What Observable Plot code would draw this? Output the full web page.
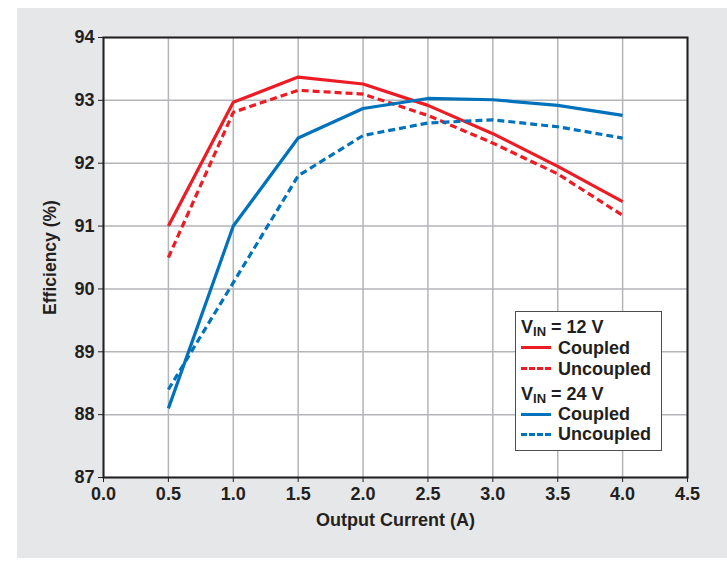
<!DOCTYPE html>
<html><head><meta charset="utf-8">
<script src="https://cdn.jsdelivr.net/npm/d3@7"></script>
<script src="https://cdn.jsdelivr.net/npm/@observablehq/plot@0.6"></script>
<style>
html,body{margin:0;padding:0;background:#fff;}
#wrap{position:relative;width:727px;height:571px;font-family:"Liberation Sans",Arial,sans-serif;}
#panel{position:absolute;left:17px;top:8px;width:710px;height:550px;background:#e6e7e8;}
#chart{position:absolute;left:0;top:0;}
#legend{position:absolute;left:515px;top:311px;width:147px;height:140px;background:#fff;border:1.5px solid #4d4d4d;box-sizing:border-box;font-weight:bold;font-size:18px;color:#231f20;}
.row{position:absolute;left:5px;height:20px;line-height:20px;white-space:nowrap;}
.sw{display:inline-block;width:30px;height:0;vertical-align:middle;margin-right:7px;border-top-width:3.5px;position:relative;top:-1px;}
sub{font-size:13px;vertical-align:-3px;line-height:0;}
</style></head>
<body>
<div id="wrap"><div id="panel"></div><div id="chart"></div><div id="legend"></div></div>
<script>
const current = [0.5, 1.0, 1.5, 2.0, 2.5, 3.0, 3.5, 4.0];
const eff12Coupled   = [91.0, 92.97, 93.37, 93.26, 92.92, 92.47, 91.95, 91.39];
const eff12Uncoupled = [90.5, 92.81, 93.16, 93.10, 92.76, 92.32, 91.83, 91.17];
const eff24Coupled   = [88.1, 91.0, 92.40, 92.87, 93.03, 93.01, 92.92, 92.76];
const eff24Uncoupled = [88.4, 90.1, 91.80, 92.44, 92.64, 92.69, 92.58, 92.40];
const xTicks = [0, 0.5, 1, 1.5, 2, 2.5, 3, 3.5, 4, 4.5];
const yTicks = [87, 88, 89, 90, 91, 92, 93, 94];
const xTitle = "Output Current (A)";
const yTitle = "Efficiency (%)";

const series = [
  {name: "12 V Coupled", vals: eff12Coupled, color: "#ed1c24", dash: null},
  {name: "12 V Uncoupled", vals: eff12Uncoupled, color: "#ed1c24", dash: "7,4"},
  {name: "24 V Coupled", vals: eff24Coupled, color: "#0072bc", dash: null},
  {name: "24 V Uncoupled", vals: eff24Uncoupled, color: "#0072bc", dash: "7,4"}
];
const lineMarks = series.map(s => Plot.line(current.map((c, i) => ({x: c, y: s.vals[i]})), {
  x: "x", y: "y", stroke: s.color, strokeWidth: 3.2, strokeDasharray: s.dash, strokeLinejoin: "miter", strokeLinecap: "butt"
}));

const chart = Plot.plot({
  width: 727, height: 571,
  marginLeft: 103, marginRight: 40, marginTop: 37, marginBottom: 94,
  style: {background: "transparent", fontFamily: "'Liberation Sans', Arial, sans-serif", fontSize: "18px", fontWeight: "bold", color: "#231f20"},
  x: {domain: [0, 4.5], ticks: xTicks},
  y: {domain: [87, 94], ticks: yTicks},
  marks: [
    Plot.frame({fill: "white"}),
    Plot.gridX(xTicks, {stroke: "#b3b5b8", strokeOpacity: 1, strokeWidth: 1.5}),
    Plot.gridY(yTicks, {stroke: "#b3b5b8", strokeOpacity: 1, strokeWidth: 1.5}),
    ...lineMarks,
    Plot.frame({stroke: "#231f20", strokeWidth: 2}),
    Plot.axisX(xTicks, {tickSize: 5, tickPadding: 5, tickFormat: d => d.toFixed(1), label: null, stroke: "#231f20", fill: "#231f20", fontSize: 18}),
    Plot.axisY(yTicks, {tickSize: 5, tickPadding: 4, tickFormat: d => String(d), label: null, stroke: "#231f20", fill: "#231f20", fontSize: 18}),
    Plot.text([xTitle], {frameAnchor: "bottom", dy: 48, text: d => d, fontSize: 18, fontWeight: "bold", fill: "#231f20"}),
    Plot.text([yTitle], {frameAnchor: "left", dx: -53, rotate: -90, textAnchor: "middle", text: d => d, fontSize: 17.5, fontWeight: "bold", fill: "#231f20"})
  ]
});
document.getElementById("chart").appendChild(chart);

const legendRows = [
  {html: "V<sub>IN</sub> = 12 V", top: 5},
  {html: "Coupled", color: "#ed1c24", style: "solid", top: 25.5},
  {html: "Uncoupled", color: "#ed1c24", style: "dashed", top: 46.5},
  {html: "V<sub>IN</sub> = 24 V", top: 72},
  {html: "Coupled", color: "#0072bc", style: "solid", top: 92},
  {html: "Uncoupled", color: "#0072bc", style: "dashed", top: 112}
];
const leg = document.getElementById("legend");
legendRows.forEach(r => {
  const d = document.createElement("div");
  d.className = "row";
  d.style.top = r.top + "px";
  d.innerHTML = (r.color ? `<span class="sw" style="border-top-style:${r.style};border-top-color:${r.color}"></span>` : "") + r.html;
  leg.appendChild(d);
});
</script>
</body></html>
